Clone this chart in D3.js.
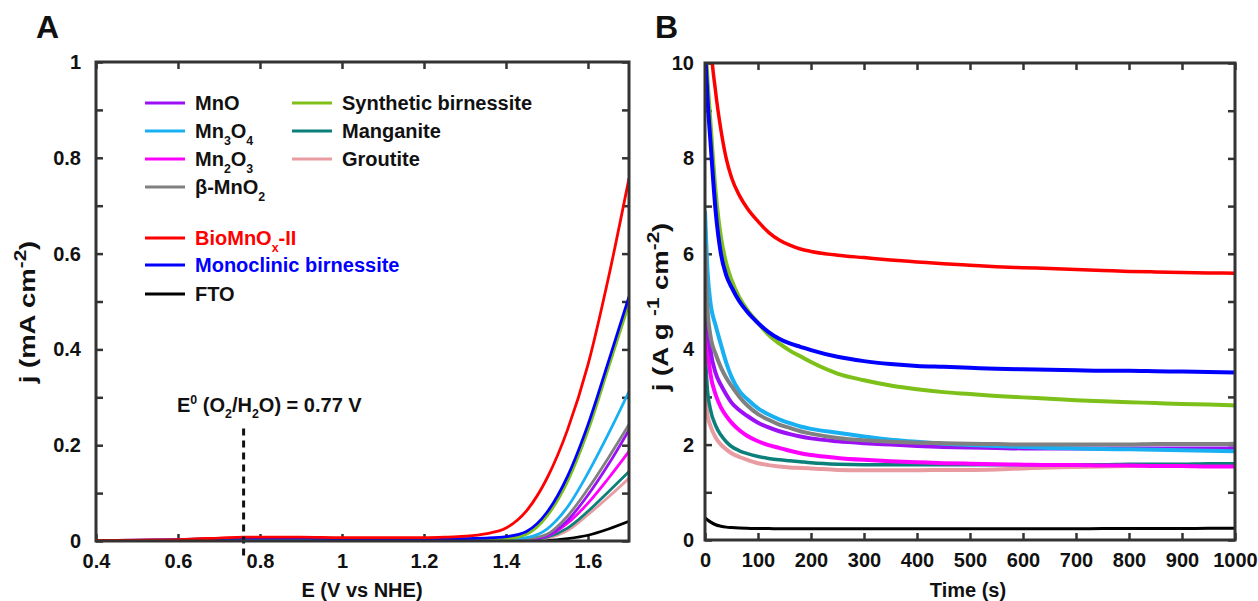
<!DOCTYPE html>
<html><head><meta charset="utf-8">
<script src="https://cdn.jsdelivr.net/npm/d3@7"></script>
<style>
body{margin:0;background:#fff}
text{font-family:"Liberation Sans",Arial,Helvetica,sans-serif;font-weight:bold;fill:#111}
</style>
</head><body>
<svg id="chart" width="1258" height="601"></svg>
<script>
// ---------------- Panel A data (LSV) ----------------
const potential = [0.4,0.5,0.6,0.7,0.76,0.8,0.9,1.0,1.1,1.2,1.25,1.3,1.35,1.4,1.45,1.5,1.55,1.6,1.65,1.7];
const lsvBio      = [0.001,0.002,0.003,0.006,0.008,0.008,0.008,0.007,0.007,0.007,0.008,0.010,0.015,0.027,0.063,0.131,0.232,0.368,0.550,0.757];
const lsvMono     = [0.001,0.002,0.003,0.005,0.006,0.006,0.006,0.005,0.005,0.005,0.005,0.005,0.006,0.009,0.020,0.060,0.135,0.243,0.375,0.510];
const lsvSynth    = [-0.003,-0.003,-0.003,-0.002,-0.002,-0.002,-0.002,-0.002,-0.002,-0.002,-0.002,-0.001,0.000,0.004,0.014,0.052,0.124,0.230,0.362,0.495];
const lsvMn3O4    = [0.001,0.001,0.001,0.002,0.002,0.002,0.002,0.002,0.002,0.002,0.002,0.002,0.002,0.003,0.007,0.025,0.071,0.142,0.224,0.312];
const lsvBetaMnO2 = [0.000,0.000,0.000,0.001,0.001,0.001,0.001,0.001,0.001,0.001,0.001,0.001,0.001,0.001,0.004,0.014,0.052,0.109,0.174,0.243];
const lsvMnO      = [0.000,0.000,0.000,0.001,0.001,0.001,0.001,0.001,0.001,0.001,0.001,0.001,0.001,0.001,0.003,0.011,0.043,0.096,0.160,0.232];
const lsvMn2O3    = [0.000,0.000,0.000,0.001,0.001,0.001,0.001,0.001,0.001,0.001,0.001,0.001,0.001,0.001,0.003,0.010,0.037,0.079,0.131,0.187];
const lsvManganite= [-0.001,-0.001,-0.001,-0.001,-0.001,-0.001,-0.001,-0.001,-0.001,-0.001,-0.001,-0.001,-0.001,0.000,0.002,0.008,0.027,0.062,0.103,0.145];
const lsvGroutite = [0.000,0.000,0.000,0.000,0.000,0.000,0.000,0.000,0.000,0.000,0.000,0.000,0.000,0.000,0.001,0.006,0.022,0.055,0.092,0.131];
const lsvFTO      = [0.000,0.000,0.000,0.000,0.000,0.000,0.000,0.000,0.000,0.000,0.000,0.000,0.000,0.000,0.000,0.001,0.005,0.012,0.025,0.041];

// ---------------- Panel B data (chronoamperometry) ----------------
const time = [0,5,10,20,30,40,50,65,80,100,120,140,160,180,200,250,300,350,400,450,500,550,600,650,700,750,800,850,900,950,1000];
const caBio       = [14,12,10.6,9.4,8.6,8.0,7.6,7.22,6.95,6.68,6.45,6.29,6.18,6.1,6.05,5.97,5.92,5.87,5.83,5.79,5.76,5.73,5.71,5.69,5.67,5.65,5.63,5.62,5.61,5.60,5.59];
const caMono      = [10.3,9.2,8.4,6.9,6.0,5.55,5.3,5.0,4.78,4.55,4.36,4.22,4.12,4.05,3.98,3.84,3.75,3.69,3.65,3.63,3.61,3.59,3.58,3.57,3.56,3.55,3.55,3.54,3.53,3.52,3.51];
const caSynth     = [10.6,9.6,8.8,7.3,6.35,5.8,5.45,5.08,4.82,4.55,4.3,4.12,3.97,3.85,3.73,3.49,3.35,3.24,3.16,3.10,3.06,3.02,2.99,2.96,2.93,2.91,2.89,2.87,2.85,2.84,2.82];
const caMn3O4     = [6.9,5.6,5.0,4.5,4.1,3.72,3.42,3.12,2.95,2.76,2.63,2.53,2.45,2.38,2.33,2.25,2.17,2.10,2.06,2.02,1.99,1.97,1.95,1.93,1.92,1.91,1.90,1.89,1.88,1.87,1.86];
const caBetaMnO2  = [6.2,4.8,4.3,3.9,3.62,3.4,3.23,3.0,2.82,2.64,2.52,2.42,2.35,2.28,2.23,2.14,2.09,2.06,2.04,2.03,2.02,2.01,2.0,2.0,2.0,2.0,2.0,2.01,2.01,2.01,2.02];
const caMnO       = [5.2,4.5,4.0,3.5,3.25,3.05,2.88,2.72,2.6,2.46,2.36,2.28,2.22,2.17,2.13,2.07,2.03,2.0,1.97,1.95,1.94,1.93,1.92,1.92,1.92,1.92,1.92,1.92,1.92,1.92,1.92];
const caMn2O3     = [5.0,4.0,3.5,3.05,2.78,2.6,2.46,2.3,2.18,2.07,1.99,1.93,1.87,1.82,1.78,1.72,1.68,1.65,1.63,1.61,1.60,1.59,1.58,1.57,1.57,1.56,1.56,1.55,1.55,1.54,1.54];
const caManganite = [4.0,3.1,2.75,2.4,2.2,2.06,1.96,1.87,1.81,1.75,1.71,1.68,1.66,1.64,1.62,1.59,1.58,1.58,1.58,1.58,1.58,1.58,1.58,1.58,1.58,1.58,1.59,1.59,1.59,1.60,1.60];
const caGroutite  = [3.1,2.6,2.4,2.15,2.0,1.9,1.82,1.74,1.68,1.61,1.57,1.54,1.52,1.51,1.50,1.47,1.46,1.46,1.46,1.47,1.47,1.48,1.50,1.52,1.53,1.54,1.55,1.56,1.57,1.58,1.58];
const caFTO       = [0.47,0.42,0.38,0.32,0.29,0.27,0.26,0.25,0.245,0.24,0.24,0.235,0.235,0.235,0.235,0.235,0.235,0.235,0.235,0.235,0.235,0.235,0.235,0.235,0.235,0.24,0.24,0.24,0.24,0.245,0.245];

// ---------------- ticks ----------------
const aXTicks = [0.4,0.6,0.8,1.0,1.2,1.4,1.6];
const aXLabels = ["0.4","0.6","0.8","1","1.2","1.4","1.6"];
const aYTicks = [0,0.1,0.2,0.3,0.4,0.5,0.6,0.7,0.8,0.9,1];
const aYLabels = ["0","","0.2","","0.4","","0.6","","0.8","","1"];
const bXTicks = [0,100,200,300,400,500,600,700,800,900,1000];
const bXLabels = ["0","100","200","300","400","500","600","700","800","900","1000"];
const bYTicks = [0,1,2,3,4,5,6,7,8,9,10];
const bYLabels = ["0","","2","","4","","6","","8","","10"];

// reference line
const e0Potential = 0.76, e0Top = 0.235, e0Bottom = -0.033;

// ---------------- series (draw order) ----------------
const seriesA = [
  {name:"FTO", color:"#000000", v:lsvFTO},
  {name:"Groutite", color:"#e89ca2", v:lsvGroutite},
  {name:"Manganite", color:"#0b7f7a", v:lsvManganite},
  {name:"Mn2O3", color:"#ff00ff", v:lsvMn2O3},
  {name:"MnO", color:"#9b10f5", v:lsvMnO},
  {name:"bMnO2", color:"#808080", v:lsvBetaMnO2},
  {name:"Mn3O4", color:"#18b0f2", v:lsvMn3O4},
  {name:"Synth", color:"#7dc01a", v:lsvSynth},
  {name:"Mono", color:"#0000ff", v:lsvMono},
  {name:"Bio", color:"#ff0000", v:lsvBio}
];
const seriesB = [
  {name:"FTO", color:"#000000", v:caFTO, w:3},
  {name:"Groutite", color:"#e89ca2", v:caGroutite, w:4},
  {name:"Manganite", color:"#0b7f7a", v:caManganite, w:3.5},
  {name:"Mn2O3", color:"#ff00ff", v:caMn2O3, w:4},
  {name:"MnO", color:"#9b10f5", v:caMnO, w:4},
  {name:"Mn3O4", color:"#18b0f2", v:caMn3O4, w:4},
  {name:"bMnO2", color:"#808080", v:caBetaMnO2, w:4},
  {name:"Synth", color:"#7dc01a", v:caSynth, w:4},
  {name:"Mono", color:"#0000ff", v:caMono, w:4},
  {name:"Bio", color:"#ff0000", v:caBio, w:3.5}
];

// legend
const legendItems = [
  {parts:[["MnO"]], color:"#9b10f5", tc:"#111", col:0, row:0},
  {parts:[["Mn"],["3","sub"],["O"],["4","sub"]], color:"#18b0f2", tc:"#111", col:0, row:1},
  {parts:[["Mn"],["2","sub"],["O"],["3","sub"]], color:"#ff00ff", tc:"#111", col:0, row:2},
  {parts:[["β-MnO"],["2","sub"]], color:"#808080", tc:"#111", col:0, row:3},
  {parts:[["BioMnO"],["x","sub"],["-II"]], color:"#ff0000", tc:"#ff0000", col:0, row:4},
  {parts:[["Monoclinic birnessite"]], color:"#0000ff", tc:"#0000ff", col:0, row:5},
  {parts:[["FTO"]], color:"#000000", tc:"#111", col:0, row:6},
  {parts:[["Synthetic birnessite"]], color:"#7dc01a", tc:"#111", col:1, row:0},
  {parts:[["Manganite"]], color:"#0b7f7a", tc:"#111", col:1, row:1},
  {parts:[["Groutite"]], color:"#e89ca2", tc:"#111", col:1, row:2}
];

const svg = d3.select("#chart");
const frameColor = "#333";

function richText(sel, parts, size, supScale){
  const ss = supScale || 0.62;
  let shift = 0;
  parts.forEach(p=>{
    const t = sel.append("tspan").text(p[0]);
    let target = 0;
    if(p[1]==="sub"){ target = size*0.32; t.attr("font-size", size*ss); }
    else if(p[1]==="sup"){ target = -size*0.42; t.attr("font-size", size*ss); }
    else { t.attr("font-size", size); }
    t.attr("dy", target - shift);
    shift = target;
  });
  return sel;
}

function styleAxis(g, fs){
  g.select(".domain").remove();
  g.selectAll(".tick line").attr("stroke", frameColor).attr("stroke-width", 2.5);
  g.selectAll(".tick text").attr("font-size", fs).style("fill","#111");
}

function panel(cfg){
  const {x, y, xT, xL, yT, yL, xPad, yPad, id} = cfg;
  const [x0,x1] = x.range(), [y0,y1] = y.range();
  svg.append("clipPath").attr("id", id).append("rect")
    .attr("x", x0).attr("y", y1).attr("width", x1-x0).attr("height", y0-y1);
  svg.append("g").attr("transform",`translate(0,${y0})`)
    .call(d3.axisBottom(x).tickValues(xT).tickFormat((d,i)=>xL[i]).tickSize(-7).tickSizeOuter(0).tickPadding(xPad))
    .call(g=>styleAxis(g,20));
  svg.append("g").attr("transform",`translate(0,${y1})`)
    .call(d3.axisTop(x).tickValues(xT).tickFormat("").tickSize(-7).tickSizeOuter(0))
    .call(g=>styleAxis(g,20));
  svg.append("g").attr("transform",`translate(${x0},0)`)
    .call(d3.axisLeft(y).tickValues(yT).tickFormat((d,i)=>yL[i]).tickSize(-7).tickSizeOuter(0).tickPadding(yPad))
    .call(g=>styleAxis(g,20));
  svg.append("g").attr("transform",`translate(${x1},0)`)
    .call(d3.axisRight(y).tickValues(yT).tickFormat("").tickSize(-7).tickSizeOuter(0))
    .call(g=>styleAxis(g,20));
}

// ---------- Panel A ----------
const xA = d3.scaleLinear([0.4,1.7],[96,629]);
const yA = d3.scaleLinear([0,1],[541,62]);
panel({x:xA,y:yA,xT:aXTicks,xL:aXLabels,yT:aYTicks,yL:aYLabels,xPad:13,yPad:15,id:"clipA"});

const lineA = d3.line().x((d,i)=>xA(potential[i])).y(d=>yA(d)).curve(d3.curveMonotoneX);
svg.append("g").attr("clip-path","url(#clipA)").selectAll("path").data(seriesA).join("path")
  .attr("d", s=>lineA(s.v)).attr("fill","none").attr("stroke", s=>s.color).attr("stroke-width",2.8);

svg.append("line").attr("x1",xA(e0Potential)).attr("x2",xA(e0Potential))
  .attr("y1",yA(e0Top)).attr("y2",yA(e0Bottom))
  .attr("stroke","#111").attr("stroke-width",3).attr("stroke-dasharray","7,5");
richText(svg.append("text").attr("x",177).attr("y",412),
  [["E"],["0","sup"],[" (O"],["2","sub"],["/H"],["2","sub"],["O) = 0.77 V"]], 20);

const legG = svg.append("g");
const colX = [145, 292], rowY = [103,131,159,187,238,265,294];
legendItems.forEach(it=>{
  const lx = colX[it.col], ly = rowY[it.row];
  legG.append("line").attr("x1",lx).attr("x2",lx+40).attr("y1",ly).attr("y2",ly)
    .attr("stroke",it.color).attr("stroke-width",3.2);
  const t = legG.append("text").attr("x",lx+50).attr("y",ly+7.2).style("fill",it.tc);
  richText(t, it.parts, 20);
});

svg.append("rect").attr("x",96).attr("y",62).attr("width",533).attr("height",479)
  .attr("fill","none").attr("stroke",frameColor).attr("stroke-width",3);

svg.append("text").attr("x",362).attr("y",597).attr("text-anchor","middle").attr("font-size",20).text("E (V vs NHE)");
richText(svg.append("text").attr("transform","translate(35,312) scale(1,1.25) rotate(-90)").attr("text-anchor","middle"),
  [["j (mA cm"],["-2","sup"],[")"]], 22, 0.75);
svg.append("text").attr("x",36).attr("y",38).attr("font-size",32).text("A");

// ---------- Panel B ----------
const xB = d3.scaleLinear([0,1000],[705,1235]);
const yB = d3.scaleLinear([0,10],[540,63]);
panel({x:xB,y:yB,xT:bXTicks,xL:bXLabels,yT:bYTicks,yL:bYLabels,xPad:13,yPad:11,id:"clipB"});

const lineB = d3.line().x((d,i)=>xB(time[i])).y(d=>yB(d)).curve(d3.curveMonotoneX);
svg.append("g").attr("clip-path","url(#clipB)").selectAll("path").data(seriesB).join("path")
  .attr("d", s=>lineB(s.v)).attr("fill","none").attr("stroke", s=>s.color).attr("stroke-width",s=>s.w)
  .attr("stroke-linejoin","round");

svg.append("rect").attr("x",705).attr("y",63).attr("width",530).attr("height",477)
  .attr("fill","none").attr("stroke",frameColor).attr("stroke-width",3);

svg.append("text").attr("x",968).attr("y",597).attr("text-anchor","middle").attr("font-size",20).text("Time (s)");
richText(svg.append("text").attr("transform","translate(668,307) scale(1,1.25) rotate(-90)").attr("text-anchor","middle"),
  [["j (A g "],["-1","sup"],[" cm"],["-2","sup"],[")"]], 22, 0.75);
svg.append("text").attr("x",655).attr("y",38).attr("font-size",32).text("B");
</script>
</body></html>
